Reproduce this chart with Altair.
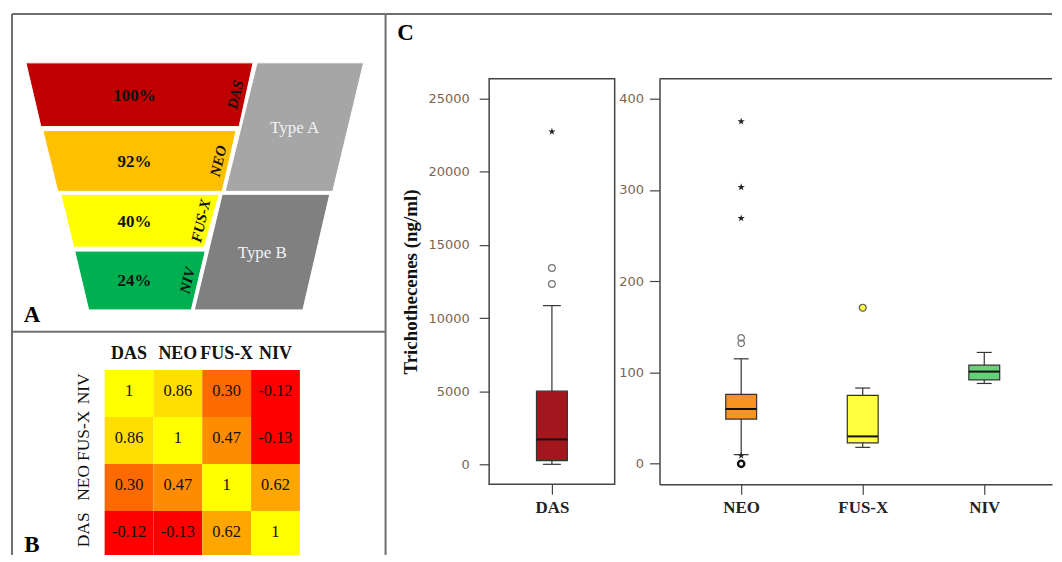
import altair as alt
import pandas as pd

# ---------------- data ----------------
toxins = ["DAS", "NEO", "FUS-X", "NIV"]
occurrence_pct = ["100%", "92%", "40%", "24%"]
toxin_types = ["Type A", "Type B"]

corr_cols = ["DAS", "NEO", "FUS-X", "NIV"]
corr_rows = ["NIV", "FUS-X", "NEO", "DAS"]
corr_r = [
    [1.00, 0.86, 0.30, -0.12],
    [0.86, 1.00, 0.47, -0.13],
    [0.30, 0.47, 1.00, 0.62],
    [-0.12, -0.13, 0.62, 1.00],
]

box_names = ["DAS", "NEO", "FUS-X", "NIV"]
box_lo = [0, 10, 18, 88]
box_q1 = [250, 49, 23, 92]
box_med = [1700, 60, 30, 101]
box_q3 = [5000, 76, 75, 108]
box_hi = [10850, 115, 83, 122]

das_outliers = [12330, 13420]
das_extremes = [22750]
neo_outliers = [132, 138]
neo_low_outliers = [0]
neo_extremes = [9, 269, 303, 375]
fusx_outliers = [171]

# ---------------- style ----------------
SERIF = "Liberation Serif"
SANS = "DejaVu Sans"
BORDER = "#6e6e6e"
FRAME = "#444444"
TICKLBL = "#7a6455"
funnel_colors = ["#c00000", "#ffc000", "#ffff00", "#00b050"]
type_colors = ["#a6a6a6", "#808080"]
box_colors = ["#a3161d", "#f7931e", "#ffff40", "#66d17a"]
heat_domain = [-0.13, -0.12, 0.30, 0.47, 0.62, 0.86, 1.0]
heat_range = ["#ff0000", "#ff0000", "#ff6a00", "#ff8c00", "#ffa600", "#ffde00", "#ffff00"]
STAR = ("M0,-1L0.2245,-0.309L0.951,-0.309L0.363,0.118L0.588,0.809L0,0.382"
        "L-0.588,0.809L-0.363,0.118L-0.951,-0.309L-0.2245,-0.309Z")

one = pd.DataFrame({"k": [0]})

# ---------------- left column (panels A and B in one view) ----------------
LW = 375
AH = 319          # height of panel A
LH = 543          # height of the whole left column
BH = LH - AH      # height of panel B

# panel A funnel layout (pixel geometry of the schematic)
band_top = [49, 117, 181, 238]
band_bot = [113, 178, 234, 297]
band_l = [(14, 29), (31, 46), (49, 62), (63, 77)]
band_r = [(242, 228), (225, 211), (208, 193), (194, 180)]
type_top = [49, 181]
type_bot = [178, 297]
type_l = [(246, 214), (211, 183)]
type_r = [(353, 322), (319, 292)]

rows = []
for i, t in enumerate(toxins):
    rows.append(dict(shape=t, y=band_top[i], xl=band_l[i][0], xr=band_r[i][0]))
    rows.append(dict(shape=t, y=band_bot[i], xl=band_l[i][1], xr=band_r[i][1]))
for j, t in enumerate(toxin_types):
    rows.append(dict(shape=t, y=type_top[j], xl=type_l[j][0], xr=type_r[j][0]))
    rows.append(dict(shape=t, y=type_bot[j], xl=type_l[j][1], xr=type_r[j][1]))
shapes_df = pd.DataFrame(rows)

xA = alt.Scale(domain=[0, LW], range=[0, LW], nice=False, zero=False)
yA = alt.Scale(domain=[0, AH], range=[0, AH], nice=False, zero=False)

funnel = alt.Chart(shapes_df).mark_area(orient="horizontal", stroke="white", strokeWidth=1, opacity=1).encode(
    y=alt.Y("y:Q", scale=yA, axis=None),
    x=alt.X("xl:Q", scale=xA, axis=None, stack=False),
    x2="xr:Q",
    color=alt.Color("shape:N", scale=alt.Scale(domain=toxins + toxin_types,
                                               range=funnel_colors + type_colors), legend=None),
)

mid = [(band_top[i] + band_bot[i]) / 2 for i in range(4)]
pct_df = pd.DataFrame(dict(x=[123] * 4, y=[m + 1 for m in mid], t=occurrence_pct))
lab_df = pd.DataFrame(dict(x=[(band_r[i][0] + band_r[i][1]) / 2 - 11 for i in range(4)], y=mid, t=toxins))
type_df = pd.DataFrame(dict(
    x=[(type_l[j][0] + type_l[j][1] + type_r[j][0] + type_r[j][1]) / 4 for j in range(2)],
    y=[(type_top[j] + type_bot[j]) / 2 + 1 for j in range(2)],
    t=toxin_types))

pct_text = alt.Chart(pct_df).mark_text(font=SERIF, fontSize=17, fontWeight="bold", color="#111").encode(
    x=alt.X("x:Q", scale=xA, axis=None), y=alt.Y("y:Q", scale=yA, axis=None), text="t:N")
lab_text = alt.Chart(lab_df).mark_text(font=SERIF, fontSize=15, fontWeight="bold", fontStyle="italic",
                                       color="#111", angle=283).encode(
    x=alt.X("x:Q", scale=xA, axis=None), y=alt.Y("y:Q", scale=yA, axis=None), text="t:N")
type_text = alt.Chart(type_df).mark_text(font=SERIF, fontSize=17, color="#f2f2f2").encode(
    x=alt.X("x:Q", scale=xA, axis=None), y=alt.Y("y:Q", scale=yA, axis=None), text="t:N")

# panel B heatmap, in cell-index units mapped onto the lower part of the column
cell_w, cell_h = 49, 47.2
gx0, gy0 = 93, 38.3
xB = alt.Scale(domain=[-gx0 / cell_w, (LW - gx0) / cell_w], range=[0, LW], nice=False, zero=False)
yB = alt.Scale(domain=[-gy0 / cell_h, (BH - gy0) / cell_h], range=[AH, LH], nice=False, zero=False)

hrows = []
for ri, rname in enumerate(corr_rows):
    for ci, cname in enumerate(corr_cols):
        v = corr_r[ri][ci]
        hrows.append(dict(r0=ri, r1=ri + 1, rc=ri + 0.45, c0=ci, c1=ci + 1, cc=ci + 0.5, v=v,
                          lbl="1" if v == 1 else f"{v:.2f}"))
heat_df = pd.DataFrame(hrows)

heat = alt.Chart(heat_df).mark_rect(clip=True).encode(
    x=alt.X("c0:Q", scale=xB, axis=None), x2="c1:Q",
    y=alt.Y("r0:Q", scale=yB, axis=None), y2="r1:Q",
    color=alt.Color("v:Q", scale=alt.Scale(domain=heat_domain, range=heat_range), legend=None))
heat_txt = alt.Chart(heat_df).mark_text(font=SERIF, fontSize=16.5, color="#111").encode(
    x=alt.X("cc:Q", scale=xB, axis=None), y=alt.Y("rc:Q", scale=yB, axis=None), text="lbl:N")
col_df = pd.DataFrame(dict(x=[i + 0.5 for i in range(4)], y=[-0.34] * 4, t=corr_cols))
row_df = pd.DataFrame(dict(x=[-0.43] * 4, y=[i + 0.4 for i in range(4)], t=corr_rows))
col_txt = alt.Chart(col_df).mark_text(font=SERIF, fontSize=18, fontWeight="bold", color="#111").encode(
    x=alt.X("x:Q", scale=xB, axis=None), y=alt.Y("y:Q", scale=yB, axis=None), text="t:N")
row_txt = alt.Chart(row_df).mark_text(font=SERIF, fontSize=17.5, color="#111", angle=270).encode(
    x=alt.X("x:Q", scale=xB, axis=None), y=alt.Y("y:Q", scale=yB, axis=None), text="t:N")

# panel letters and panel borders
letters = alt.layer(
    alt.Chart(one).mark_text(text="A", font=SERIF, fontSize=23, fontWeight="bold", color="black").encode(
        x=alt.value(20), y=alt.value(302)),
    alt.Chart(one).mark_text(text="B", font=SERIF, fontSize=23, fontWeight="bold", color="black",
                             baseline="alphabetic").encode(x=alt.value(20), y=alt.value(AH + 221)),
)
borders = alt.layer(
    alt.Chart(one).mark_rule(color=BORDER, strokeWidth=2).encode(
        x=alt.value(0), x2=alt.value(LW), y=alt.value(0)),
    alt.Chart(one).mark_rule(color=BORDER, strokeWidth=2).encode(
        x=alt.value(0), x2=alt.value(LW), y=alt.value(AH)),
    alt.Chart(one).mark_rule(color=BORDER, strokeWidth=2).encode(
        x=alt.value(0), y=alt.value(0), y2=alt.value(LH)),
    alt.Chart(one).mark_rule(color=BORDER, strokeWidth=2).encode(
        x=alt.value(LW), y=alt.value(0), y2=alt.value(LH)),
)

left = alt.layer(funnel, pct_text, lab_text, type_text,
                 heat, heat_txt, col_txt, row_txt, letters, borders).resolve_scale(
    x="independent", y="independent", color="independent"
).properties(width=LW, height=LH, view=alt.ViewBackground(stroke="transparent"))

# ---------------- panel C: box plots ----------------
DW, NW, CH = 126, 394, 407
das_ydom = [-1362, 26363]
neo_ydom = [-22.4, 421.8]
das_xdom = [-1, 1]
neo_xdom = [-0.6721, 2.5574]


def yaxis(values, pad, title=None):
    kw = dict(values=values, format="d", tickSize=10, tickColor=FRAME, tickWidth=1.2,
              labelFont=SANS, labelFontSize=13, labelColor=TICKLBL, labelPadding=pad,
              grid=False, domain=(title is None), domainColor=FRAME, domainWidth=1.5)
    if title is not None:
        kw.update(title=title, titleFont=SERIF, titleFontSize=19, titleFontWeight="bold",
                  titleColor="#111", titleAngle=270, titleX=-79, titleY=CH / 2,
                  titleAlign="center", titleBaseline="middle")
    else:
        kw.update(title=None)
    return alt.Axis(**kw)


def xaxis(values, expr, domain):
    return alt.Axis(values=values, labelExpr=expr, tickSize=10, tickColor=FRAME, tickWidth=1.2,
                    labelFont=SERIF, labelFontSize=17, labelFontWeight="bold", labelColor="#222",
                    labelPadding=5, labelFlush=False, grid=False, title=None,
                    domain=domain, domainColor=FRAME, domainWidth=1.5)


box_color_scale = alt.Scale(domain=box_names, range=box_colors)


def box_layers(idx, sel, xdom, width, xax, ysc, yax, box_half_px, cap_half_px):
    ppu = width / (xdom[1] - xdom[0])
    bh, chf = box_half_px / ppu, cap_half_px / ppu
    df = pd.DataFrame(dict(idx=idx, name=[box_names[i] for i in sel],
                           lo=[box_lo[i] for i in sel], q1=[box_q1[i] for i in sel],
                           med=[box_med[i] for i in sel], q3=[box_q3[i] for i in sel],
                           hi=[box_hi[i] for i in sel]))
    df["bl"] = df["idx"] - bh
    df["br"] = df["idx"] + bh
    df["cl"] = df["idx"] - chf
    df["cr"] = df["idx"] + chf
    xs = alt.Scale(domain=xdom, nice=False, zero=False)

    def X(f):
        return alt.X(f + ":Q", scale=xs, axis=xax)

    def Y(f):
        return alt.Y(f + ":Q", scale=ysc, axis=yax)

    base = alt.Chart(df)
    whisk = base.mark_rule(color="#333", strokeWidth=1.2).encode(x=X("idx"), y=Y("lo"), y2="hi:Q")
    cap_lo = base.mark_rule(color="#333", strokeWidth=1.2).encode(x=X("cl"), x2="cr:Q", y=Y("lo"))
    cap_hi = base.mark_rule(color="#333", strokeWidth=1.2).encode(x=X("cl"), x2="cr:Q", y=Y("hi"))
    box = base.mark_rect(stroke="#333", strokeWidth=1.2).encode(
        x=X("bl"), x2="br:Q", y=Y("q1"), y2="q3:Q",
        color=alt.Color("name:N", scale=box_color_scale, legend=None))
    med = base.mark_rule(color="#111", strokeWidth=2).encode(x=X("bl"), x2="br:Q", y=Y("med"))
    return [whisk, cap_lo, cap_hi, box, med], X, Y


def pts(i, vals, X, Y, **mk):
    df = pd.DataFrame(dict(idx=[i] * len(vals), v=vals))
    return alt.Chart(df).mark_point(opacity=1, **mk).encode(x=X("idx"), y=Y("v"))


# DAS panel
das_ys = alt.Scale(domain=das_ydom, nice=False, zero=False)
das_yax = yaxis([0, 5000, 10000, 15000, 20000, 25000], 10, "Trichothecenes  (ng/ml)")
das_xax = xaxis([0], "'DAS'", False)
das_l, dX, dY = box_layers([0], [0], das_xdom, DW, das_xax, das_ys, das_yax, 15.5, 9)
das_l.append(pts(0, das_outliers, dX, dY, shape="circle", filled=False, stroke="#777", strokeWidth=1.3, size=45))
das_l.append(pts(0, das_extremes, dX, dY, shape=STAR, filled=True, fill="#222", strokeWidth=0, size=60))
das = alt.layer(*das_l).properties(width=DW, height=CH,
                                   view=alt.ViewBackground(stroke=FRAME, strokeWidth=1.5))

# NEO / FUS-X / NIV panel
neo_ys = alt.Scale(domain=neo_ydom, nice=False, zero=False)
neo_yax = yaxis([0, 100, 200, 300, 400], 6)
neo_xax = xaxis([0, 1, 2], "['NEO','FUS-X','NIV'][datum.value]", True)
neo_l, nX, nY = box_layers([0, 1, 2], [1, 2, 3], neo_xdom, NW, neo_xax, neo_ys, neo_yax, 15.5, 7.5)
neo_l.append(pts(0, neo_outliers, nX, nY, shape="circle", filled=False, stroke="#777", strokeWidth=1.3, size=42))
neo_l.append(pts(0, neo_low_outliers, nX, nY, shape="circle", filled=False, stroke="#111", strokeWidth=2.4, size=40))
neo_l.append(pts(0, neo_extremes, nX, nY, shape=STAR, filled=True, fill="#222", strokeWidth=0, size=60))
neo_l.append(pts(1, fusx_outliers, nX, nY, shape="circle", filled=True, fill="#ffff40", stroke="#555",
                 strokeWidth=1.2, size=48))
neo_l.append(alt.Chart(one).mark_rule(color=FRAME, strokeWidth=1.5).encode(
    x=alt.value(0), x2=alt.value(NW), y=alt.value(0)))
neo = alt.layer(*neo_l).properties(width=NW, height=CH, view=alt.ViewBackground(stroke="transparent"))

# header of panel C (border line + letter)
HW = DW + 45 + NW
header = alt.layer(
    alt.Chart(one).mark_rule(color=BORDER, strokeWidth=2).encode(
        x=alt.value(-104), x2=alt.value(HW), y=alt.value(0)),
    alt.Chart(one).mark_text(text="C", font=SERIF, fontSize=23, fontWeight="bold", color="black").encode(
        x=alt.value(-84), y=alt.value(19)),
).properties(width=HW, height=65, view=alt.ViewBackground(stroke="transparent"))

cpanel = alt.hconcat(das, neo, spacing=45, bounds="flush")
right = alt.vconcat(header, cpanel, spacing=0, bounds="flush")

chart = alt.hconcat(left, right, spacing=104, bounds="flush").properties(
    padding={"left": 2, "top": 3, "right": 0, "bottom": 0}
).configure_view(stroke="transparent")

chart.save("out.html", embed_options={"renderer": "svg", "actions": False})
